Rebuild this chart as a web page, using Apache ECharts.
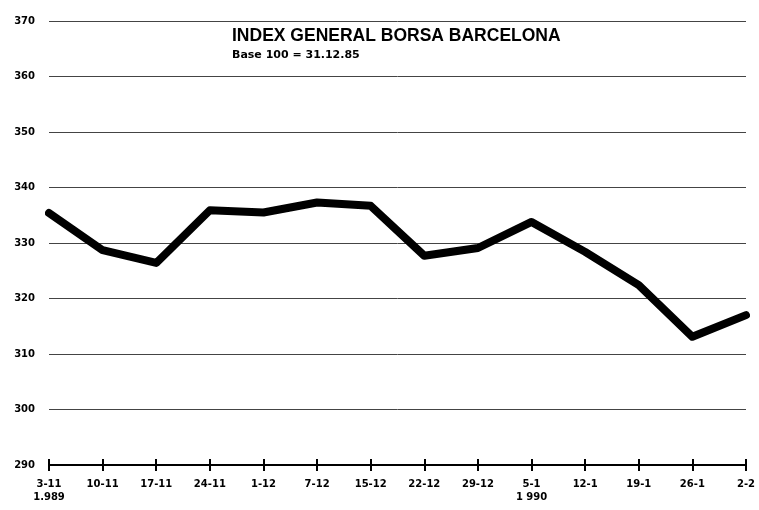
<!DOCTYPE html>
<html>
<head>
<meta charset="utf-8">
<script src="https://cdn.jsdelivr.net/npm/echarts@6/dist/echarts.min.js"></script>
<style>
  html, body { margin: 0; padding: 0; background: #fff; }
  #chart { width: 759px; height: 510px; }
</style>
</head>
<body>
<div id="chart"></div>
<script>
// weekly dates, Nov 1989 - Feb 1990
const weeks = ['3-11', '10-11', '17-11', '24-11', '1-12', '7-12', '15-12',
  '22-12', '29-12', '5-1', '12-1', '19-1', '26-1', '2-2']
const yearMarks = { '3-11': '1.989', '5-1': '1 990' }
const indexValues = [335.4, 328.7, 326.4, 335.9, 335.5, 337.3, 336.7,
  327.7, 329.1, 333.8, 328.4, 322.4, 313.1, 317.0]

const font = 'DejaVu Sans'
const chart = echarts.init(document.getElementById('chart'))

chart.setOption({
  animation: false,
  backgroundColor: '#fff',
  title: {
    text: 'INDEX GENERAL BORSA BARCELONA',
    subtext: 'Base 100 = 31.12.85',
    left: 232,
    top: 27,
    itemGap: 5,
    padding: 0,
    textStyle: { fontFamily: 'Liberation Sans', fontWeight: 'bold', fontSize: 17.5, color: '#000' },
    subtextStyle: { fontFamily: font, fontWeight: 'bold', fontSize: 11, color: '#000' },
  },
  grid: { left: 49, right: 13, top: 21, bottom: 45 },
  xAxis: [
    {
      type: 'category',
      data: weeks,
      boundaryGap: false,
      axisLine: { lineStyle: { color: '#000', width: 2 } },
      axisTick: { show: true, length: 6, lineStyle: { color: '#000', width: 2 } },
      axisLabel: {
        interval: 0,
        margin: 13,
        lineHeight: 13,
        fontFamily: font,
        fontWeight: 'bold',
        fontSize: 10,
        color: '#000',
        formatter: function (v) {
          return yearMarks[v] ? v + '\n' + yearMarks[v] : v
        },
      },
      splitLine: { show: false },
    },
    {
      type: 'category',
      data: weeks,
      boundaryGap: false,
      position: 'bottom',
      axisLine: { show: false },
      axisTick: { show: true, inside: true, length: 6, lineStyle: { color: '#000', width: 2 } },
      axisLabel: { show: false },
    },
  ],
  yAxis: {
    type: 'value',
    min: 290,
    max: 370,
    interval: 10,
    axisLine: { show: false },
    axisTick: { show: false },
    axisLabel: {
      margin: 14,
      fontFamily: font,
      fontWeight: 'bold',
      fontSize: 10,
      color: '#000',
    },
    splitLine: { lineStyle: { color: '#444', width: 1 } },
  },
  series: [
    {
      type: 'line',
      data: indexValues,
      symbol: 'none',
      lineStyle: { color: '#000', width: 8, join: 'round', cap: 'round' },
    },
  ],
})
</script>
</body>
</html>
